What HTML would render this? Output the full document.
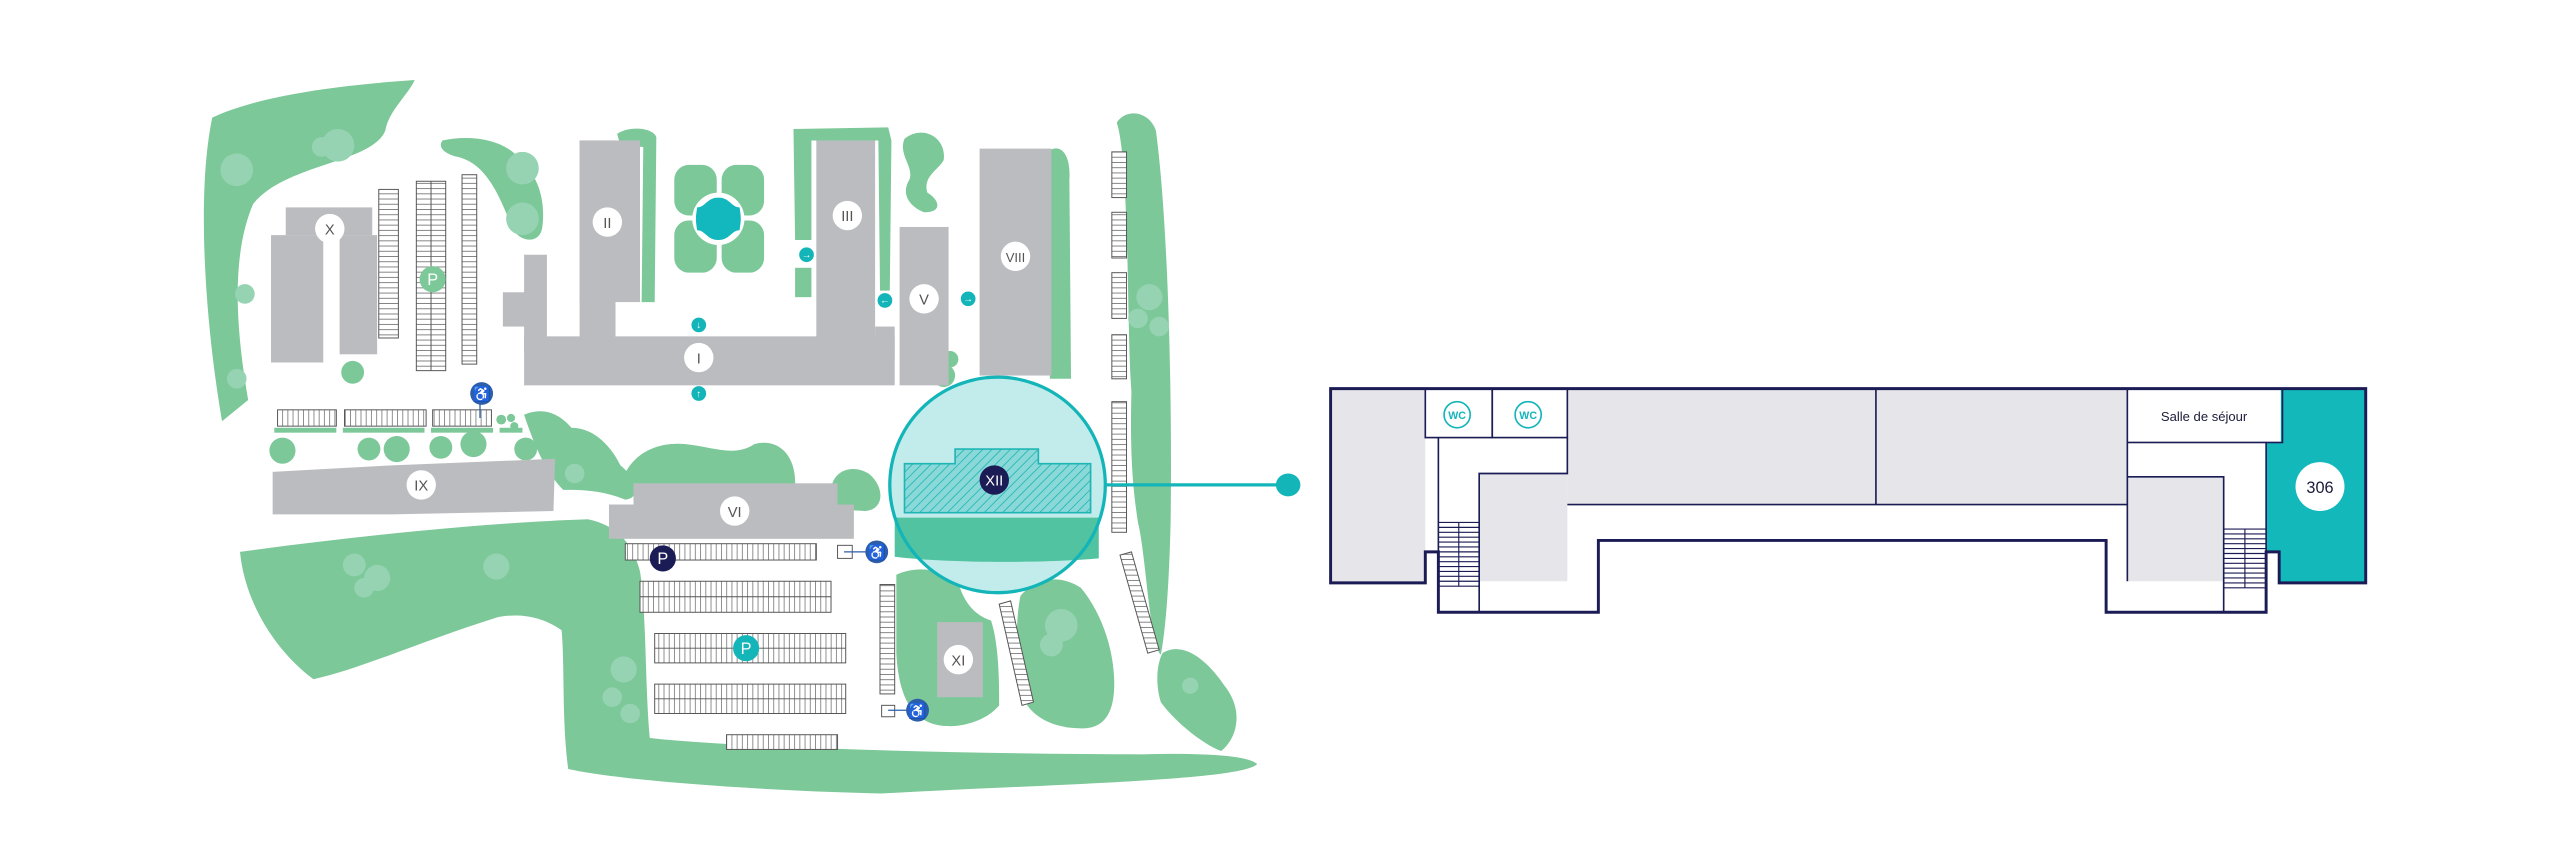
<!DOCTYPE html>
<html><head><meta charset="utf-8"><style>
html,body{margin:0;padding:0;background:#fff;width:2560px;height:867px;overflow:hidden}
svg{display:block}
text{font-family:"Liberation Sans",sans-serif}
</style></head><body>
<svg width="2560" height="867" viewBox="0 0 1568 531" xmlns="http://www.w3.org/2000/svg">
<defs>
<pattern id="pv" width="3.2" height="10" patternUnits="userSpaceOnUse"><rect width="3.2" height="10" fill="#fff"/><line x1="0.3" y1="0" x2="0.3" y2="10" stroke="#555" stroke-width="0.4"/></pattern>
<pattern id="ph" width="10" height="3.2" patternUnits="userSpaceOnUse"><rect width="10" height="3.2" fill="#fff"/><line x1="0" y1="0.3" x2="10" y2="0.3" stroke="#555" stroke-width="0.4"/></pattern>
<pattern id="hatch" width="4" height="4" patternUnits="userSpaceOnUse" patternTransform="rotate(45)"><rect width="4" height="4" fill="#8ad8d8"/><line x1="0" y1="0" x2="0" y2="4" stroke="#1fb5b5" stroke-width="1"/></pattern>
</defs>
<g fill="#7cc899">
<!-- top-left blob -->
<path d="M130,72 C160,58 210,52 254,49 C250,58 238,68 236,80 C228,100 175,100 155,125 C140,160 146,210 152,245 L136,258 C126,200 120,120 130,72 Z"/>
<!-- big bottom belt -->
<path d="M147,338 C220,328 300,320 360,318 C380,322 388,335 392,350 C396,375 395,420 398,452 C450,458 600,462 700,462 C740,461 765,463 770,468 C760,478 650,480 540,486 C460,484 380,478 348,471 C344,440 346,410 344,386 C330,376 315,376 305,378 C260,392 220,410 192,416 C170,400 150,370 147,338 Z"/>
<!-- right strip -->
<path d="M684,75 C690,66 704,68 708,80 C716,140 718,250 717,320 C716,360 714,385 711,401 C704,395 702,340 697,320 C694,300 692,280 693,240 C690,200 692,100 684,75 Z"/>
<path d="M712,400 C725,392 740,405 750,420 C762,435 758,452 748,460 C735,455 718,440 711,430 C708,420 708,408 712,400 Z"/>
<!-- II hook -->
<path d="M378,82 C385,77 400,78 402,84 L401,185 L393,185 L394,90 L380,89 Z"/>
<!-- III U strip -->
<path d="M486,79 L544,78 L546,86 L545,178 L539,178 L538,86 L497,86 L497,147 L487,147 Z"/>
<rect x="487" y="164" width="10" height="18"/>
<!-- blob near V -->
<path d="M554,85 C565,76 580,84 578,98 C575,104 565,108 568,118 C575,122 578,130 566,130 C556,126 552,118 557,110 C560,102 550,95 554,85 Z"/>
<!-- VIII right strip -->
<path d="M643,92 C650,88 656,95 655,110 L656,232 L643,232 Z"/>
<!-- near II left top -->
<path d="M271,86 C290,82 312,86 320,100 C332,110 334,128 332,140 C330,150 318,148 314,140 C306,120 298,100 280,96 C272,94 268,90 271,86 Z"/>
<!-- near IX right -->
<path d="M321,254 C335,248 345,256 350,262 C365,262 375,275 380,285 C392,295 392,305 383,306 C368,300 356,300 345,300 C335,290 328,275 321,254 Z"/>
<!-- VI top -->
<path d="M380,298 C384,280 400,270 420,272 C438,274 450,280 462,272 C476,268 488,278 487,298 Z"/>
<path d="M509,300 C510,288 522,284 532,290 C542,298 542,312 530,313 L512,312 Z"/>
<!-- XI blob -->
<path d="M549,352 C562,346 580,348 588,360 C592,372 600,378 607,380 C612,395 612,420 612,432 C602,444 580,448 568,442 C555,436 550,420 549,400 Z"/>
<!-- right-lower blob -->
<path d="M625,365 C635,353 650,352 662,360 C672,372 680,390 682,410 C684,430 680,445 665,446 C648,447 630,440 626,425 C622,400 622,380 625,365 Z"/>
<!-- green strips above trees -->
<rect x="168" y="262" width="38" height="3"/><rect x="210" y="262" width="50" height="3"/><rect x="264" y="262" width="38" height="3"/><rect x="306" y="262" width="14" height="3"/>
<!-- trees -->
<circle cx="173" cy="276" r="8"/><circle cx="226" cy="275" r="7"/><circle cx="243" cy="275" r="8"/><circle cx="270" cy="274" r="7"/><circle cx="290" cy="272" r="8"/><circle cx="216" cy="228" r="7"/><circle cx="307" cy="257" r="3"/><circle cx="313" cy="256" r="2.5"/><circle cx="315" cy="261" r="2.5"/>
<circle cx="322" cy="275" r="7"/>
<circle cx="582" cy="220" r="5"/><circle cx="578" cy="230" r="7"/>
<!-- pond -->
<rect x="413" y="101" width="26" height="31" rx="9"/><rect x="442" y="101" width="26" height="31" rx="9"/><rect x="413" y="135" width="26" height="32" rx="9"/><rect x="442" y="135" width="26" height="32" rx="9"/>
</g>
<g fill="#96d3b2">
<circle cx="145" cy="104" r="10"/><circle cx="207" cy="89" r="10"/><circle cx="197" cy="90" r="6"/><circle cx="150" cy="180" r="6"/><circle cx="145" cy="232" r="6"/>
<circle cx="320" cy="103" r="10"/><circle cx="320" cy="134" r="10"/>
<circle cx="217" cy="346" r="7"/><circle cx="231" cy="354" r="8"/><circle cx="223" cy="360" r="6"/><circle cx="304" cy="347" r="8"/><circle cx="382" cy="410" r="8"/><circle cx="375" cy="427" r="6"/><circle cx="386" cy="437" r="6"/>
<circle cx="352" cy="290" r="6"/><circle cx="650" cy="383" r="10"/><circle cx="644" cy="395" r="7"/><circle cx="704" cy="182" r="8"/><circle cx="697" cy="195" r="6"/><circle cx="710" cy="200" r="6"/><circle cx="729" cy="420" r="5"/>
</g>
<!-- pond center -->
<circle cx="440" cy="134" r="16" fill="#fff"/>
<path d="M440,121 C447,121 448,127 453,127 C454,134 454,134 453,141 C448,141 447,147 440,147 C433,147 432,141 427,141 C426,134 426,134 427,127 C432,127 433,121 440,121 Z" fill="#12b8bd"/>
<!-- buildings -->
<g fill="#bbbcbf">
<rect x="175" y="127" width="53" height="17"/><rect x="166" y="144" width="32" height="78"/><rect x="208" y="144" width="23" height="73"/>
<rect x="355" y="86" width="37" height="99"/><rect x="355" y="86" width="22" height="125"/>
<rect x="321" y="206" width="227" height="30"/><rect x="321" y="156" width="14" height="60"/><rect x="308" y="179" width="16" height="21"/>
<rect x="500" y="86" width="36" height="130"/><rect x="536" y="200" width="12" height="20"/>
<rect x="551" y="139" width="30" height="97"/><rect x="600" y="91" width="44" height="139"/>
<path d="M167,289 L240,285 L340,281 L339,313 L240,315 L167,315 Z"/>
<rect x="388" y="296" width="125" height="14"/><rect x="373" y="309" width="150" height="21"/>
<rect x="574" y="381" width="28" height="46"/>
</g>
<!-- parking -->
<g stroke="#555" stroke-width="0.6">
<rect x="232" y="116" width="12" height="91" fill="url(#ph)"/>
<rect x="255" y="111" width="18" height="116" fill="url(#ph)"/><line x1="264" y1="111" x2="264" y2="227"/>
<rect x="283" y="107" width="9" height="116" fill="url(#ph)"/>
<rect x="170" y="251" width="36" height="10" fill="url(#pv)"/><rect x="211" y="251" width="50" height="10" fill="url(#pv)"/><rect x="265" y="251" width="36" height="10" fill="url(#pv)"/>
<rect x="383" y="333" width="117" height="10" fill="url(#pv)"/>
<rect x="392" y="356" width="117" height="19" fill="url(#pv)"/><line x1="392" y1="365.5" x2="509" y2="365.5"/>
<rect x="401" y="388" width="117" height="18" fill="url(#pv)"/><line x1="401" y1="397" x2="518" y2="397"/>
<rect x="401" y="419" width="117" height="18" fill="url(#pv)"/><line x1="401" y1="428" x2="518" y2="428"/>
<rect x="445" y="450" width="68" height="9" fill="url(#pv)"/>
<rect x="539" y="358" width="9" height="67" fill="url(#ph)"/>
<rect x="681" y="93" width="9" height="28" fill="url(#ph)"/><rect x="681" y="130" width="9" height="28" fill="url(#ph)"/><rect x="681" y="167" width="9" height="28" fill="url(#ph)"/><rect x="681" y="205" width="9" height="27" fill="url(#ph)"/><rect x="681" y="246" width="9" height="80" fill="url(#ph)"/>
<path d="M612,370 L619,368 L633,430 L626,432 Z" fill="url(#ph)"/>
<path d="M686,340 L693,338 L710,398 L703,400 Z" fill="url(#ph)"/>
<rect x="513" y="334" width="9" height="8" fill="#fff"/><rect x="540" y="432" width="8" height="7" fill="#fff"/>
</g>
<g stroke="#2d5ea8" stroke-width="0.8"><line x1="294" y1="241" x2="294" y2="256"/><line x1="517" y1="338" x2="537" y2="338"/><line x1="544" y1="435" x2="562" y2="435"/></g>
<!-- XII highlight -->
<circle cx="611" cy="297" r="66" fill="#c2ecec"/>
<path d="M548,317 L673,317 L673,342 C640,345 580,345 548,341 Z" fill="#52c3a0"/>
<path d="M554,284 L585,284 L585,275 L636,275 L636,284 L668,284 L668,314 L554,314 Z" fill="url(#hatch)" stroke="#1fb5b5" stroke-width="1"/>
<circle cx="611" cy="297" r="66" fill="none" stroke="#13b5b8" stroke-width="2"/>
<line x1="677" y1="297" x2="789" y2="297" stroke="#13b5b8" stroke-width="2"/>
<ellipse cx="789" cy="297" rx="7.5" ry="7" fill="#13b5b8"/>
<!-- labels -->
<g fill="#fff"><circle cx="202" cy="140" r="9"/><circle cx="372" cy="136" r="9"/><circle cx="519" cy="132" r="9"/><circle cx="566" cy="183" r="9"/><circle cx="622" cy="157" r="9"/><circle cx="428" cy="219" r="9"/><circle cx="258" cy="297" r="9"/><circle cx="450" cy="313" r="9"/><circle cx="587" cy="404" r="9"/></g>
<g font-size="9" fill="#555" text-anchor="middle">
<text x="202" y="143.5">X</text><text x="372" y="139.5">II</text><text x="519" y="135.5">III</text><text x="566" y="186.5">V</text><text x="622" y="160.5" font-size="8">VIII</text><text x="428" y="222.5">I</text><text x="258" y="300.5">IX</text><text x="450" y="316.5">VI</text><text x="587" y="407.5">XI</text>
</g>
<circle cx="609" cy="294" r="9" fill="#1b1b55"/><text x="609" y="297.5" font-size="9" fill="#fff" text-anchor="middle">XII</text>
<circle cx="265" cy="171" r="8" fill="#7cc899"/><text x="265" y="174.5" font-size="10" fill="#fff" text-anchor="middle">P</text>
<circle cx="406" cy="342" r="8" fill="#1b1b55"/><text x="406" y="345.5" font-size="10" fill="#fff" text-anchor="middle">P</text>
<circle cx="457" cy="397" r="8" fill="#13b5b8"/><text x="457" y="400.5" font-size="10" fill="#fff" text-anchor="middle">P</text>
<g fill="#2d5ea8"><circle cx="295" cy="241" r="7"/><circle cx="537" cy="338" r="7"/><circle cx="562" cy="435" r="7"/></g>
<g font-size="9" fill="#fff" text-anchor="middle"><text x="295" y="244.5">♿</text><text x="537" y="341.5">♿</text><text x="562" y="438.5">♿</text></g>
<g fill="#13b5b8"><circle cx="494" cy="156" r="4.5"/><circle cx="542" cy="184" r="4.5"/><circle cx="593" cy="183" r="4.5"/><circle cx="428" cy="199" r="4.5"/><circle cx="428" cy="241" r="4.5"/></g>
<g font-size="6" fill="#fff" text-anchor="middle"><text x="494" y="158">→</text><text x="542" y="186">←</text><text x="593" y="185">→</text><text x="428" y="201">↓</text><text x="428" y="243">↑</text></g>
<!-- floor plan -->
<g>
<rect x="815" y="238" width="634" height="119" fill="#fff"/>
<rect x="881" y="338" width="98" height="37" fill="#fff"/><rect x="1290" y="338" width="98" height="37" fill="#fff"/>
<rect x="815" y="238" width="58" height="119" fill="#e6e6ea"/>
<rect x="960" y="238" width="343" height="71" fill="#e6e6ea"/>
<rect x="906" y="290" width="54" height="66" fill="#e6e6ea"/>
<rect x="1303" y="292" width="59" height="64" fill="#e6e6ea"/>
<path d="M1397,238 L1449,238 L1449,357 L1396,357 L1396,338 L1388,338 L1388,271 L1397,271 Z" fill="#13b8bb"/>
<g fill="none" stroke="#1b1b55" stroke-width="1">
<rect x="873" y="238" width="41" height="30"/><rect x="914" y="238" width="46" height="30"/>
<line x1="881" y1="268" x2="881" y2="338"/>
<polyline points="906,375 906,290 960,290 960,268"/>
<line x1="960" y1="309" x2="1303" y2="309"/>
<line x1="1149" y1="238" x2="1149" y2="309"/>
<rect x="1303" y="238" width="95" height="33"/>
<line x1="1303" y1="271" x2="1303" y2="356"/>
<polyline points="1303,292 1362,292 1362,375"/>
<line x1="1388" y1="271" x2="1388" y2="338"/>
</g>
<g stroke="#1b1b55" stroke-width="0.7">
<line x1="881" y1="320" x2="906" y2="320"/><line x1="881" y1="323" x2="906" y2="323"/><line x1="881" y1="326" x2="906" y2="326"/><line x1="881" y1="329" x2="906" y2="329"/><line x1="881" y1="332" x2="906" y2="332"/><line x1="881" y1="335" x2="906" y2="335"/><line x1="881" y1="338" x2="906" y2="338"/><line x1="881" y1="341" x2="906" y2="341"/><line x1="881" y1="344" x2="906" y2="344"/><line x1="881" y1="347" x2="906" y2="347"/><line x1="881" y1="350" x2="906" y2="350"/><line x1="881" y1="353" x2="906" y2="353"/><line x1="881" y1="356" x2="906" y2="356"/><line x1="881" y1="359" x2="906" y2="359"/>
<line x1="893.5" y1="320" x2="893.5" y2="359"/>
<line x1="1362" y1="324" x2="1388" y2="324"/><line x1="1362" y1="327" x2="1388" y2="327"/><line x1="1362" y1="330" x2="1388" y2="330"/><line x1="1362" y1="333" x2="1388" y2="333"/><line x1="1362" y1="336" x2="1388" y2="336"/><line x1="1362" y1="339" x2="1388" y2="339"/><line x1="1362" y1="342" x2="1388" y2="342"/><line x1="1362" y1="345" x2="1388" y2="345"/><line x1="1362" y1="348" x2="1388" y2="348"/><line x1="1362" y1="351" x2="1388" y2="351"/><line x1="1362" y1="354" x2="1388" y2="354"/><line x1="1362" y1="357" x2="1388" y2="357"/><line x1="1362" y1="360" x2="1388" y2="360"/>
<line x1="1375" y1="324" x2="1375" y2="360"/>
</g>
<path d="M815,238 L1449,238 L1449,357 L1396,357 L1396,338 L1388,338 L1388,375 L1290,375 L1290,331 L979,331 L979,375 L881,375 L881,338 L873,338 L873,357 L815,357 Z" fill="none" stroke="#1b1b55" stroke-width="1.8"/>
<g fill="#fff" stroke="#13b5b8" stroke-width="1"><circle cx="892.5" cy="254" r="8"/><circle cx="936" cy="254" r="8"/></g>
<g font-size="6.5" font-weight="bold" fill="#13b5b8" text-anchor="middle"><text x="892.5" y="256.5">WC</text><text x="936" y="256.5">WC</text></g>
<text x="1350" y="258" font-size="8" fill="#1b1b3a" text-anchor="middle">Salle de séjour</text>
<circle cx="1421" cy="298" r="15" fill="#fff"/>
<text x="1421" y="302" font-size="10" fill="#1b1b3a" text-anchor="middle">306</text>
</g>
</svg>
</body></html>
